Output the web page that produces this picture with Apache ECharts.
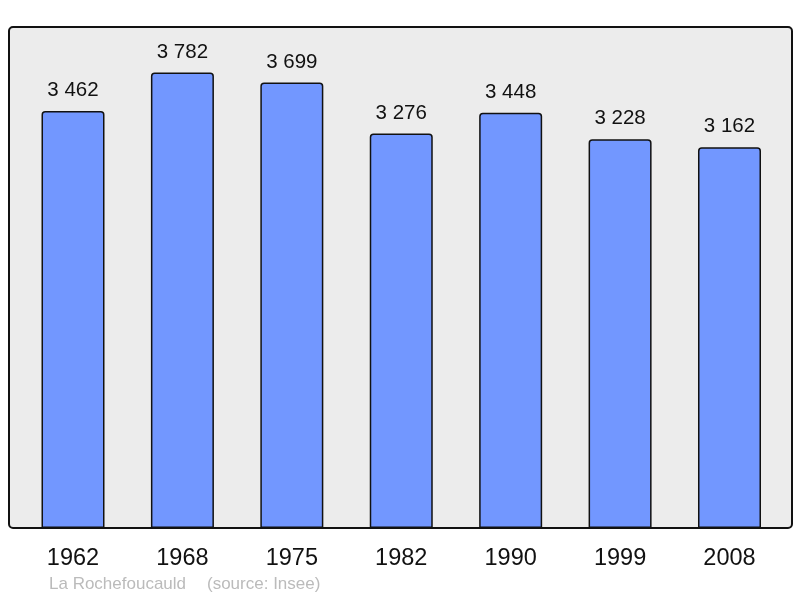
<!DOCTYPE html>
<html><head><meta charset="utf-8">
<script src="https://cdn.jsdelivr.net/npm/echarts@6/dist/echarts.min.js"></script>
<style>html,body{margin:0;padding:0;background:#fff}#c{width:800px;height:598px}</style>
</head><body><div id="c"></div>
<script>
const years = ['1962','1968','1975','1982','1990','1999','2008'];
const population = [3462,3782,3699,3276,3448,3228,3162];
const townName = 'La Rochefoucauld';
const sourceText = '(source: Insee)';

const chart = echarts.init(document.getElementById('c'), null, {renderer:'canvas'});
const fmt = v => String(v).replace(/\B(?=(\d{3})+(?!\d))/g, ' ');
chart.setOption({
  animation:false,
  textStyle:{fontFamily:'Liberation Sans'},
  graphic:[
    {type:'rect', z:-10, silent:true, shape:{x:9,y:27,width:783,height:501,r:4},
     style:{fill:'#ececec', stroke:'#111', lineWidth:2}},
    {type:'text', left:49, top:576, style:{text:townName, fill:'#bbbbbb', font:'17px "Liberation Sans"'}},
    {type:'text', left:207, top:576, style:{text:sourceText, fill:'#bbbbbb', font:'17px "Liberation Sans"'}}
  ],
  grid:{left:18.3, right:15.8, top:27, bottom:70},
  xAxis:{type:'category', data:years, axisLine:{show:false}, axisTick:{show:false},
    axisLabel:{color:'#111', fontSize:23.5, margin:19, fontFamily:'Liberation Sans'}},
  yAxis:{type:'value', min:0, max:4160, show:false, splitLine:{show:false}},
  series:[{type:'bar', data:population, barWidth:63,
    itemStyle:{color:'#7297ff', borderColor:'#111', borderWidth:1.5, borderRadius:[3,3,0,0]},
    label:{show:true, position:'top', distance:10, color:'#111', fontSize:20.5, fontFamily:'Liberation Sans',
      formatter:p=>fmt(p.value)}}]
});
</script></body></html>
